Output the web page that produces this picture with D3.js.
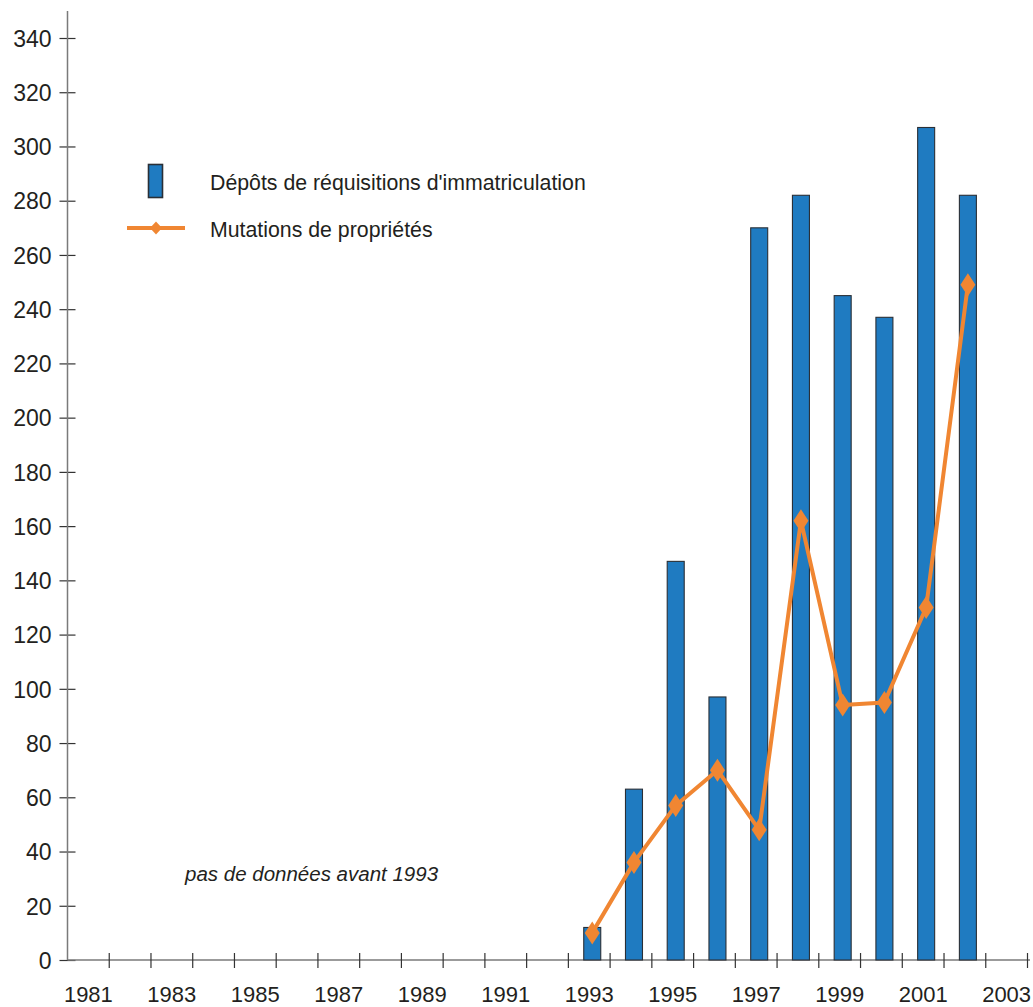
<!DOCTYPE html>
<html>
<head>
<meta charset="utf-8">
<script src="https://cdn.jsdelivr.net/npm/d3@7"></script>
<style>
  html, body { margin: 0; padding: 0; background: #fff; }
  svg { display: block; font-family: "Liberation Sans", Arial, sans-serif; }
</style>
</head>
<body>
<svg id="chart" width="1033" height="1007"></svg>
<script>
// ---- data ----
const years = d3.range(1981, 2004);
const labelYears = [1981, 1983, 1985, 1987, 1989, 1991, 1993, 1995, 1997, 1999, 2001, 2003];
const yTicks = [0, 20, 40, 60, 80, 100, 120, 140, 160, 180, 200, 220, 240, 260, 280, 300, 320, 340];
const dataYears = [1993, 1994, 1995, 1996, 1997, 1998, 1999, 2000, 2001, 2002];
const depots = [12, 63, 147, 97, 270, 282, 245, 237, 307, 282];
const mutations = [10, 36, 57, 70, 48, 162, 94, 95, 130, 249];
const seriesNames = ["Dépôts de réquisitions d'immatriculation", "Mutations de propriétés"];
const note = "pas de données avant 1993";

// ---- layout ----
const svg = d3.select("#chart");
const textColor = "#231f20";
const barColor = "#1f7bc1";
const lineColor = "#f08632";

const x = d3.scaleBand().domain(years).range([67.5, 1027.5]).padding(0);
const y = d3.scaleLinear().domain([0, 340]).range([960, 38]);
const barW = 17;
const cx = yr => x(yr) + x.bandwidth() / 2 + 3;

// y axis
const yAxisG = svg.append("g").attr("transform", "translate(67.5,0)")
  .call(d3.axisLeft(y).tickValues(yTicks).tickSize(0).tickPadding(16));
yAxisG.select(".domain").remove();
yAxisG.selectAll(".tick line").remove();
yAxisG.selectAll(".tick").append("line")
  .attr("x1", -8).attr("x2", 8).attr("stroke", "#333").attr("stroke-width", 1.2);
yAxisG.selectAll(".tick text")
  .attr("fill", textColor).style("font-size", "23px")
  .attr("font-family", "Liberation Sans, Arial, sans-serif")
  .attr("dy", "0.36em");
svg.append("line").attr("x1", 67.5).attr("x2", 67.5).attr("y1", 11).attr("y2", 960)
  .attr("stroke", "#7a7a7a").attr("stroke-width", 1.5);

// x axis
const xAxisG = svg.append("g").attr("transform", "translate(0,960)");
const bounds = years.map(yr => x(yr)).concat([x(2003) + x.bandwidth()]);
xAxisG.append("line").attr("x1", 67.5).attr("x2", 1030).attr("y1", 0).attr("y2", 0)
  .attr("stroke", "#7a7a7a").attr("stroke-width", 1.5);
xAxisG.selectAll("line.tick").data(bounds.slice(1)).join("line")
  .attr("class", "tick")
  .attr("x1", d => d).attr("x2", d => d).attr("y1", -7).attr("y2", 8)
  .attr("stroke", "#333").attr("stroke-width", 1.2);
xAxisG.selectAll("text").data(labelYears).join("text")
  .attr("x", d => x(d) + x.bandwidth() / 2)
  .attr("y", 42)
  .attr("text-anchor", "middle")
  .attr("fill", textColor)
  .style("font-size", "22px")
  .text(d => d);

// bars
svg.append("g").selectAll("rect").data(dataYears).join("rect")
  .attr("x", (d) => cx(d) - barW / 2)
  .attr("y", (d, i) => y(depots[i]))
  .attr("width", barW)
  .attr("height", (d, i) => y(0) - y(depots[i]))
  .attr("fill", barColor)
  .attr("stroke", "#2a2f36")
  .attr("stroke-width", 1.1);

// line
const line = d3.line().x(d => cx(d[0])).y(d => y(d[1]));
const pts = dataYears.map((d, i) => [d, mutations[i]]);
svg.append("path").datum(pts)
  .attr("d", line).attr("fill", "none")
  .attr("stroke", lineColor).attr("stroke-width", 4).attr("stroke-linejoin", "round");
const diamond = (w, h) => `M0,${-h/2}L${w/2},0L0,${h/2}L${-w/2},0Z`;
svg.append("g").selectAll("path").data(pts).join("path")
  .attr("transform", d => `translate(${cx(d[0])},${y(d[1])})`)
  .attr("d", diamond(15, 23))
  .attr("fill", lineColor);

// legend
const lg = svg.append("g");
lg.append("rect").attr("x", 148.5).attr("y", 164.5).attr("width", 14).attr("height", 33)
  .attr("fill", barColor).attr("stroke", "#2a2f36").attr("stroke-width", 1.6);
lg.append("text").attr("x", 210).attr("y", 190).attr("fill", textColor)
  .style("font-size", "21.3px").text(seriesNames[0]);
lg.append("line").attr("x1", 127).attr("x2", 185).attr("y1", 228).attr("y2", 228)
  .attr("stroke", lineColor).attr("stroke-width", 4);
lg.append("path").attr("transform", "translate(156,228)").attr("d", diamond(12, 13)).attr("fill", lineColor);
lg.append("text").attr("x", 210).attr("y", 237).attr("fill", textColor)
  .style("font-size", "21.3px").text(seriesNames[1]);

// note
svg.append("text").attr("x", 185).attr("y", 881).attr("fill", textColor)
  .style("font-size", "20.5px").style("font-style", "italic").text(note);
</script>
</body>
</html>
